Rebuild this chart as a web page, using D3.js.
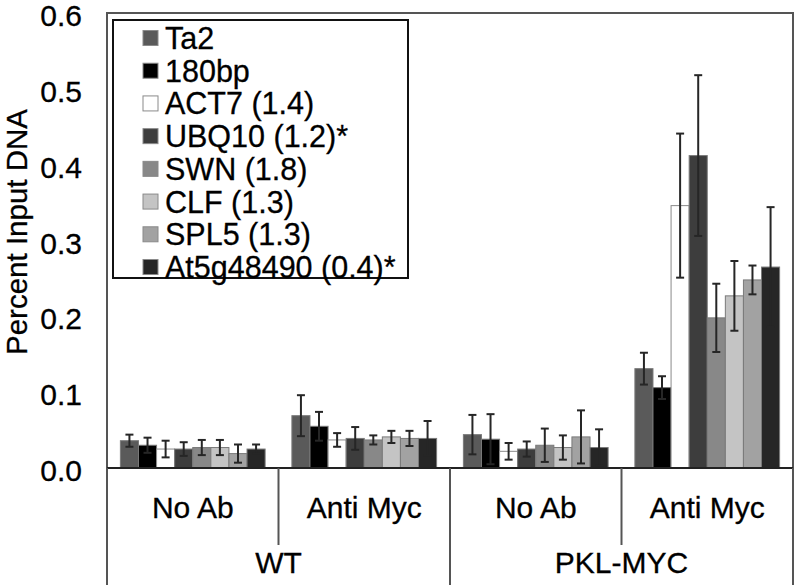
<!DOCTYPE html>
<html><head><meta charset="utf-8">
<script src="https://cdn.jsdelivr.net/npm/d3@7"></script>
<style>
html,body{margin:0;padding:0;background:#fff;}
text{font-family:"Liberation Sans",Arial,sans-serif;fill:#000;stroke:#000;stroke-width:0.3px;}
</style></head>
<body><svg id="chart" width="797" height="585"></svg>
<script>
// ---- data ----
const conditions = ["No Ab", "Anti Myc", "No Ab", "Anti Myc"];
const genotypes = ["WT", "PKL-MYC"];
const seriesNames = ["Ta2", "180bp", "ACT7 (1.4)", "UBQ10 (1.2)*", "SWN (1.8)", "CLF (1.3)", "SPL5 (1.3)", "At5g48490 (0.4)*"];
const seriesColors = ["#5a5a5a", "#000000", "#ffffff", "#3d3d3d", "#888888", "#c4c4c4", "#a2a2a2", "#262626"];
const ta2Values   = [0.036, 0.069, 0.044, 0.131];
const bp180Values = [0.030, 0.055, 0.038, 0.106];
const act7Values  = [0.025, 0.037, 0.022, 0.346];
const ubq10Values = [0.025, 0.039, 0.025, 0.412];
const swnValues   = [0.027, 0.037, 0.030, 0.198];
const clfValues   = [0.027, 0.041, 0.027, 0.227];
const spl5Values  = [0.019, 0.039, 0.041, 0.248];
const at5gValues  = [0.025, 0.039, 0.027, 0.265];
const ta2Err   = [0.008, 0.027, 0.026, 0.021];
const bp180Err = [0.010, 0.019, 0.033, 0.015];
const act7Err  = [0.011, 0.009, 0.011, 0.095];
const ubq10Err = [0.009, 0.015, 0.010, 0.106];
const swnErr   = [0.010, 0.006, 0.022, 0.045];
const clfErr   = [0.010, 0.008, 0.016, 0.046];
const spl5Err  = [0.012, 0.010, 0.035, 0.019];
const at5gErr  = [0.006, 0.023, 0.024, 0.079];
const yTicks = [0, 0.1, 0.2, 0.3, 0.4, 0.5, 0.6];

const allValues = [ta2Values, bp180Values, act7Values, ubq10Values, swnValues, clfValues, spl5Values, at5gValues];
const allErr = [ta2Err, bp180Err, act7Err, ubq10Err, swnErr, clfErr, spl5Err, at5gErr];

// ---- layout ----
const L = 107, R = 793, T = 13, B = 468;
const svg = d3.select("#chart");
const groupIdx = d3.range(conditions.length);
const x0 = d3.scaleBand().domain(groupIdx).range([L, R]).paddingInner(0).paddingOuter(0);
const x1 = d3.scaleBand().domain(d3.range(seriesNames.length)).range([0, x0.bandwidth()]).paddingInner(0).paddingOuter(0.74);
const y = d3.scaleLinear().domain([0, 0.6]).range([B, T]);

// plot frame
svg.append("rect").attr("x", L).attr("y", T).attr("width", R - L).attr("height", B - T)
  .attr("fill", "none").attr("stroke", "#555").attr("stroke-width", 2);

// bars
const cells = [];
groupIdx.forEach(g => seriesNames.forEach((s, i) => cells.push({g, i, v: allValues[i][g], e: allErr[i][g]})));
svg.append("g").selectAll("rect").data(cells).join("rect")
  .attr("x", d => x0(d.g) + x1(d.i))
  .attr("y", d => y(d.v))
  .attr("width", x1.bandwidth())
  .attr("height", d => y(0) - y(d.v))
  .attr("fill", d => seriesColors[d.i])
  .attr("stroke", d => d.i === 2 ? "#8a8a8a" : "#7a7a7a")
  .attr("stroke-width", 1);

// error bars
const eb = svg.append("g").attr("stroke", "#262626").attr("stroke-width", 2);
cells.forEach(d => {
  const cx = x0(d.g) + x1(d.i) + x1.bandwidth() / 2;
  const y1 = y(d.v + d.e), y2 = y(d.v - d.e);
  eb.append("line").attr("x1", cx).attr("x2", cx).attr("y1", y1).attr("y2", y2);
  eb.append("line").attr("x1", cx - 4).attr("x2", cx + 4).attr("y1", y1).attr("y2", y1);
  eb.append("line").attr("x1", cx - 4).attr("x2", cx + 4).attr("y1", y2).attr("y2", y2);
});

// x axis line
svg.append("line").attr("x1", L).attr("x2", R).attr("y1", B).attr("y2", B)
  .attr("stroke", "#222").attr("stroke-width", 2);

// y tick labels
svg.append("g").selectAll("text").data(yTicks).join("text")
  .attr("x", 82).attr("y", d => y(d) + 13)
  .attr("text-anchor", "end").attr("font-size", 30)
  .text(d => d3.format(".1f")(d));

// y title
svg.append("text").attr("transform", "translate(27,232) rotate(-90)")
  .attr("text-anchor", "middle").attr("font-size", 29.5).text("Percent Input DNA");

// category dividers
const dividers = [L, x0(1), x0(2), x0(3), R];
const longDiv = [true, false, true, false, true];
svg.append("g").selectAll("line").data(dividers).join("line")
  .attr("x1", d => d).attr("x2", d => d)
  .attr("y1", B).attr("y2", (d, i) => longDiv[i] ? 585 : 545)
  .attr("stroke", "#555").attr("stroke-width", 2);

// condition labels
svg.append("g").selectAll("text").data(groupIdx).join("text")
  .attr("x", g => x0(g) + x0.bandwidth() / 2).attr("y", 518)
  .attr("text-anchor", "middle").attr("font-size", 30)
  .text(g => conditions[g]);

// genotype labels
svg.append("g").selectAll("text").data(genotypes).join("text")
  .attr("x", (d, i) => (x0(i * 2) + x0(i * 2 + 1) + x0.bandwidth()) / 2).attr("y", 573)
  .attr("text-anchor", "middle").attr("font-size", 30)
  .text(d => d);

// legend
const lg = svg.append("g");
lg.append("rect").attr("x", 113).attr("y", 20).attr("width", 295).attr("height", 258)
  .attr("fill", "#fff").attr("stroke", "#111").attr("stroke-width", 2);
const rowY = d3.scaleLinear().domain([0, seriesNames.length - 1]).range([38, 267]);
seriesNames.forEach((s, i) => {
  lg.append("rect").attr("x", 143).attr("y", rowY(i) - 7.5).attr("width", 15).attr("height", 15)
    .attr("fill", seriesColors[i]).attr("stroke", "#8a8a8a").attr("stroke-width", 1);
  lg.append("text").attr("x", 165).attr("y", rowY(i) + 11).attr("font-size", 30.5).text(s);
});
</script>
</body></html>
